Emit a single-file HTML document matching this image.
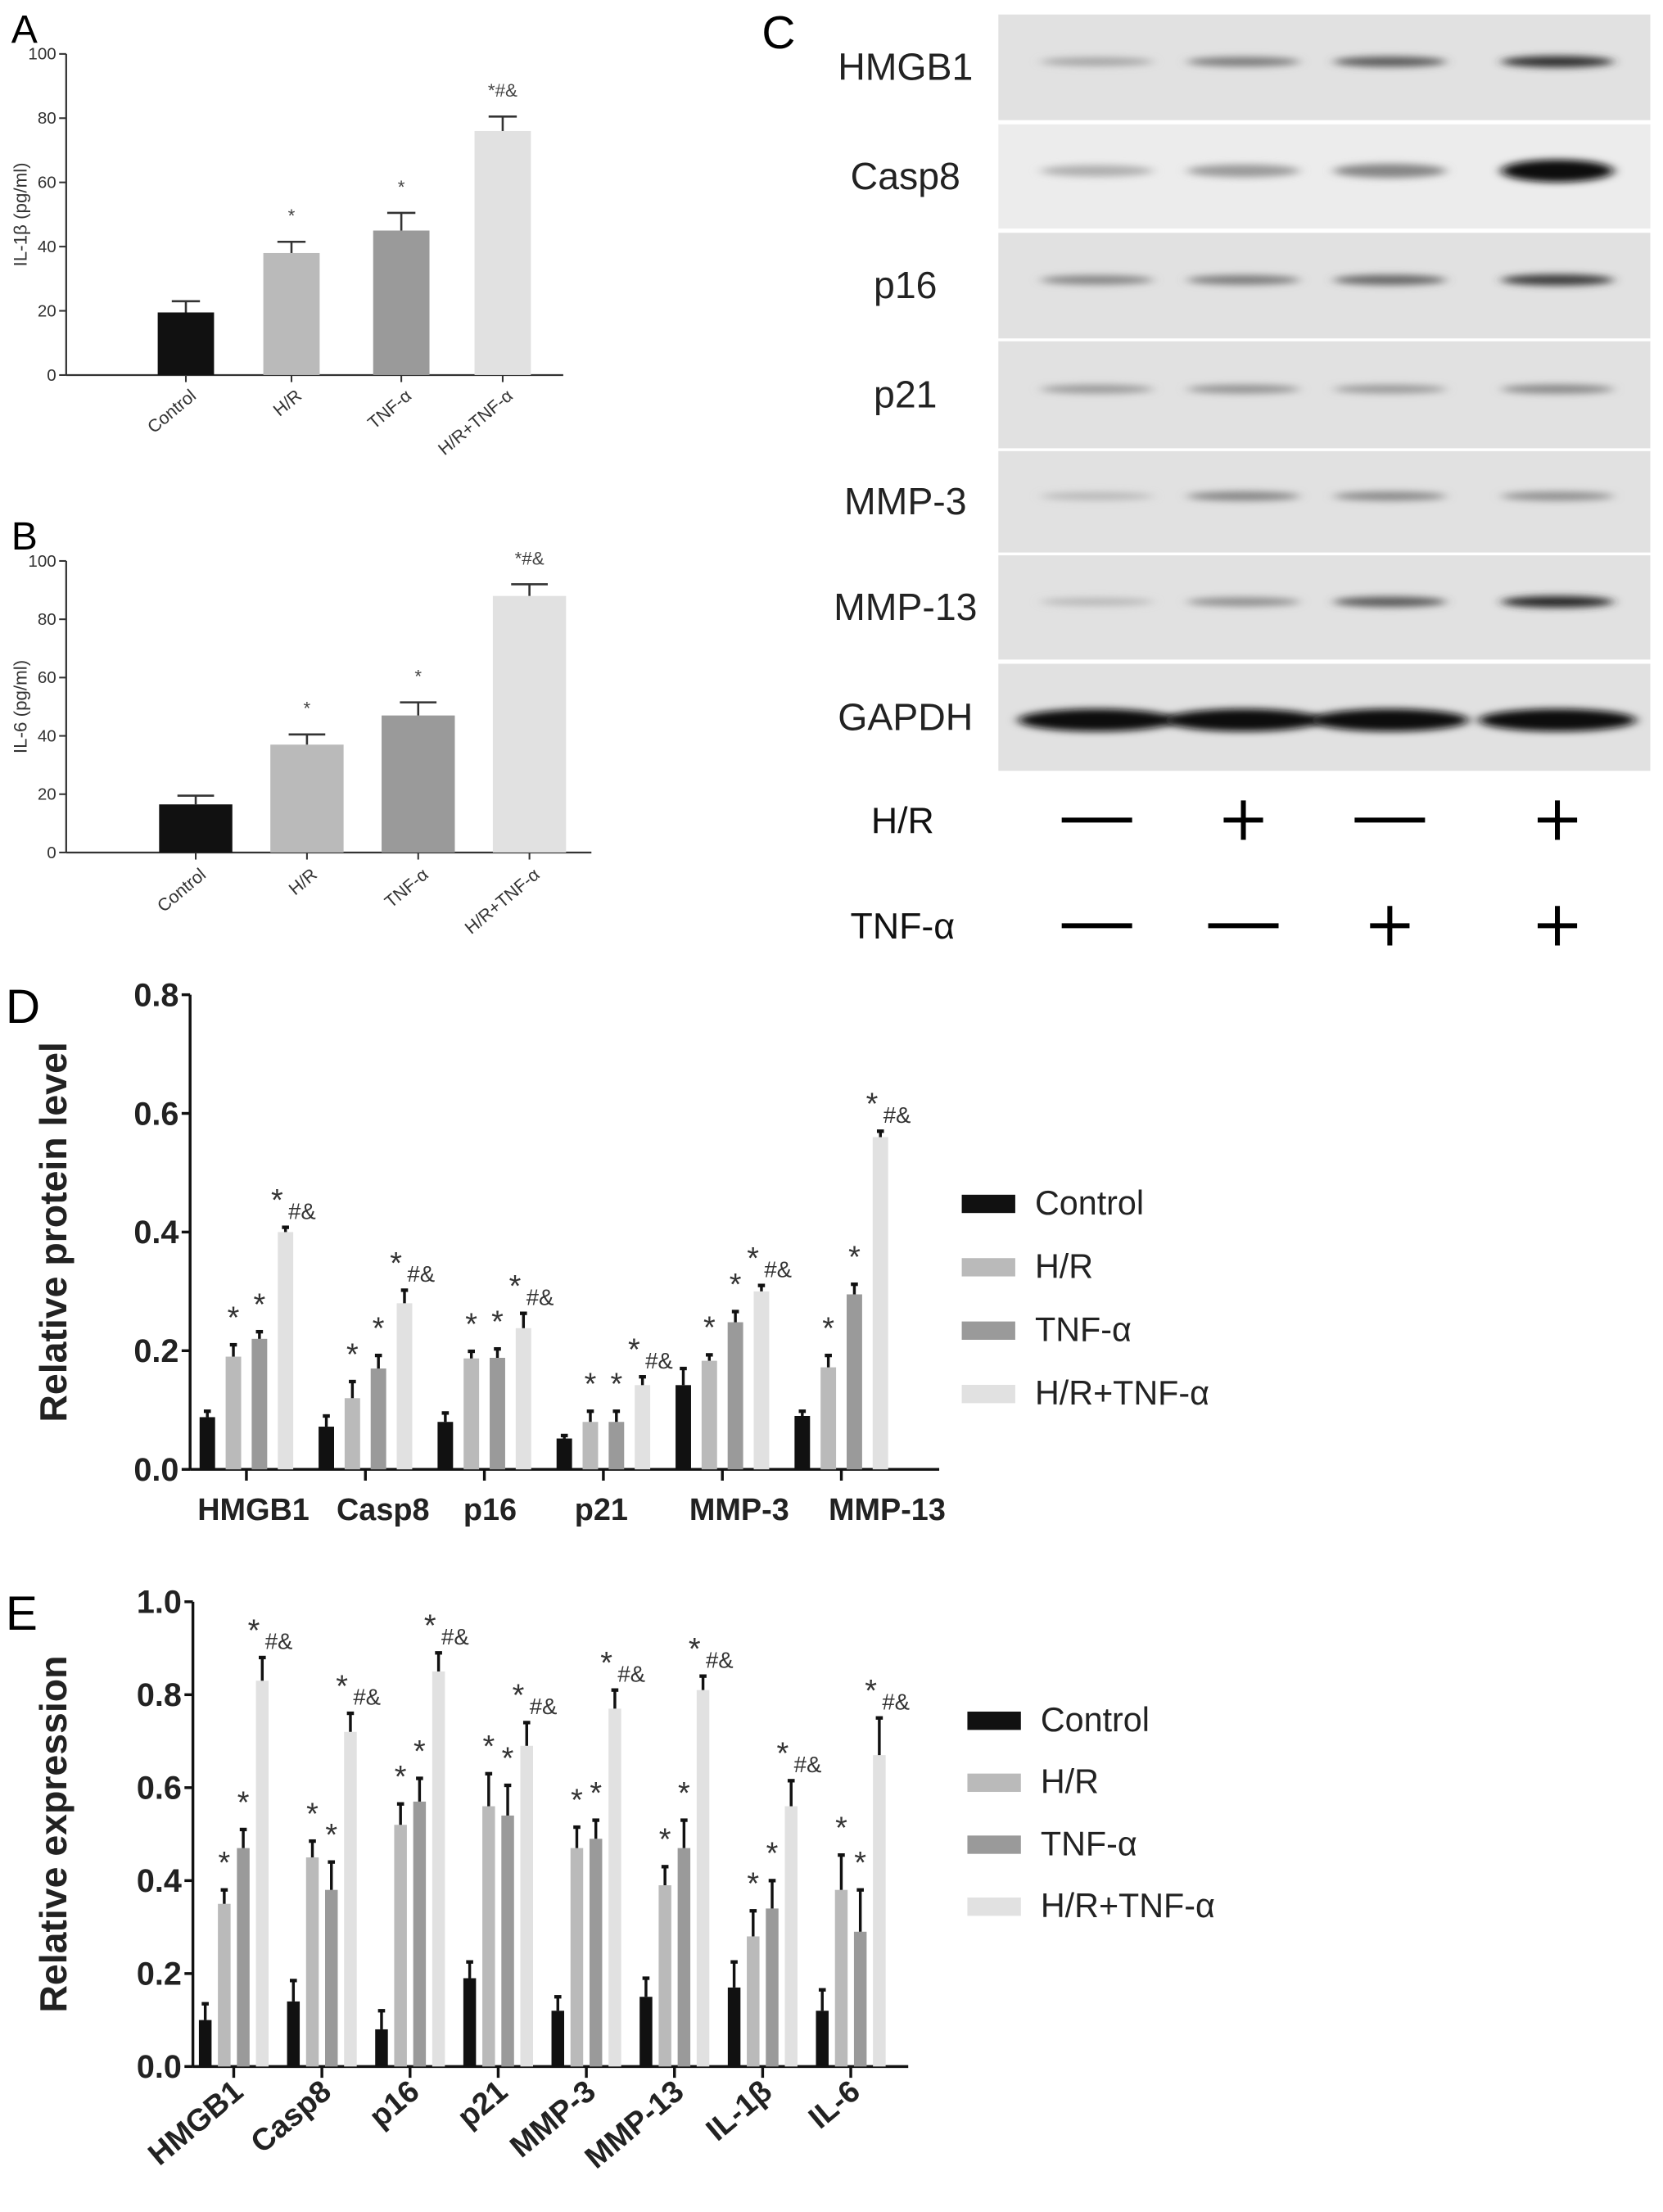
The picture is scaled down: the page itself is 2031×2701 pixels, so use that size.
<!DOCTYPE html>
<html><head><meta charset="utf-8"><style>
html,body{margin:0;padding:0;background:#fff;}
svg{display:block;font-family:"Liberation Sans",Arial,sans-serif;}
</style></head><body>
<svg id="fig" width="2031" height="2701" viewBox="0 0 1181 1570" xmlns="http://www.w3.org/2000/svg">
<defs><filter id="blur" x="-20%" y="-200%" width="140%" height="500%"><feGaussianBlur stdDeviation="4 2.5"/></filter></defs>
<g id="A"></g>
<g id="B"></g>
<g id="C"></g>
<g id="D"></g>
<g id="E"></g>
</svg>
<script>
// ---------- data ----------
const abGroups = ["Control","H/R","TNF-α","H/R+TNF-α"];
const aValues = [19.5,38,45,76];
const aErrors = [3.5,3.5,5.5,4.5];
const aMarks = ["","*","*","*#&"];
const bValues = [16.5,37,47,88];
const bErrors = [3,3.5,4.5,4];
const bMarks = ["","*","*","*#&"];
const abTicks = [0,20,40,60,80,100];

const seriesNames = ["Control","H/R","TNF-α","H/R+TNF-α"];
const dCategories = ["HMGB1","Casp8","p16","p21","MMP-3","MMP-13"];
const dControl = [0.088,0.072,0.080,0.052,0.142,0.090];
const dHR = [0.190,0.120,0.187,0.080,0.183,0.172];
const dTNF = [0.220,0.170,0.188,0.080,0.248,0.295];
const dBoth = [0.400,0.280,0.238,0.142,0.300,0.560];
const dErrControl = [0.010,0.018,0.015,0.005,0.028,0.008];
const dErrHR = [0.020,0.028,0.012,0.018,0.010,0.020];
const dErrTNF = [0.012,0.022,0.015,0.018,0.018,0.017];
const dErrBoth = [0.008,0.022,0.025,0.014,0.010,0.010];
const dTicks = [0,0.2,0.4,0.6,0.8];

const eCategories = ["HMGB1","Casp8","p16","p21","MMP-3","MMP-13","IL-1β","IL-6"];
const eControl = [0.10,0.14,0.08,0.19,0.12,0.15,0.17,0.12];
const eHR = [0.35,0.45,0.52,0.56,0.47,0.39,0.28,0.38];
const eTNF = [0.47,0.38,0.57,0.54,0.49,0.47,0.34,0.29];
const eBoth = [0.83,0.72,0.85,0.69,0.77,0.81,0.56,0.67];
const eErrControl = [0.035,0.045,0.04,0.035,0.03,0.04,0.055,0.045];
const eErrHR = [0.03,0.035,0.045,0.07,0.045,0.04,0.055,0.075];
const eErrTNF = [0.04,0.06,0.05,0.065,0.04,0.06,0.06,0.09];
const eErrBoth = [0.05,0.04,0.04,0.05,0.04,0.03,0.055,0.08];
const eTicks = [0,0.2,0.4,0.6,0.8,1.0];

const blotProteins = ["HMGB1","Casp8","p16","p21","MMP-3","MMP-13","GAPDH"];
const blotIntensity = [
 [0.25,0.45,0.6,0.8],[0.2,0.3,0.4,1.0],[0.4,0.45,0.55,0.75],
 [0.3,0.33,0.3,0.38],[0.15,0.4,0.38,0.35],[0.15,0.35,0.6,0.85],[1,1,1,1]];
const hrSigns = ["—","+","—","+"];
const tnfSigns = ["—","—","+","+"];

// ---------- helpers ----------
const NS="http://www.w3.org/2000/svg";
function mk(parent,tag,attrs,text){const e=document.createElementNS(NS,tag);for(const k in attrs)e.setAttribute(k,attrs[k]);if(text!==undefined)e.textContent=text;parent.appendChild(e);return e;}
const fills=["#111111","#bababa","#9a9a9a","#e1e1e1"];

// ---------- panels A & B ----------
function smallChart(g,letter,ylab,vals,errs,marks,x0,yBase,yTop,centers,bw,xEnd,labY){
  const y=v=>yBase-(v/100)*(yBase-yTop);
  let t=mk(g,"text",{x:8,y:yTop-8,"font-size":28},letter);
  
  
  let ax=mk(g,"line",{x1:x0,y1:yTop,x2:x0,y2:yBase,stroke:"#333","stroke-width":1.3});
  
  
  let bx=mk(g,"line",{x1:x0,y1:yBase,x2:xEnd,y2:yBase,stroke:"#333","stroke-width":1.3});
  
  
  abTicks.forEach(tv=>{
    mk(g,"line",{x1:x0-5,y1:y(tv),x2:x0,y2:y(tv),stroke:"#333","stroke-width":1.2});
    let tl=mk(g,"text",{x:x0-7,y:y(tv)+4,"font-size":12,"text-anchor":"end",fill:"#333"},tv);
    
    
  });
  let yl=mk(g,"text",{transform:`translate(19,${(yBase+yTop)/2}) rotate(-90)`,"font-size":13,"text-anchor":"middle",fill:"#333"},ylab);
  
  
  vals.forEach((v,i)=>{
    const cx=centers[i];
    let r=mk(g,"rect",{x:cx-bw/2,y:y(v),width:bw,height:yBase-y(v),fill:fills[i]});
    
    
    mk(g,"line",{x1:cx,y1:y(v),x2:cx,y2:y(v+errs[i]),stroke:"#333","stroke-width":1.5});
    mk(g,"line",{x1:cx-bw/4,y1:y(v+errs[i]),x2:cx+bw/4,y2:y(v+errs[i]),stroke:"#333","stroke-width":1.5});
    if(marks[i]){let m=mk(g,"text",{x:cx,y:y(v+errs[i])-14,"font-size":13,"text-anchor":"middle",fill:"#444"},marks[i]);
      
      }
    mk(g,"line",{x1:cx,y1:yBase,x2:cx,y2:yBase+5,stroke:"#333","stroke-width":1.2});
    let xl=mk(g,"text",{transform:`translate(${cx+8},${labY}) rotate(-40)`,"font-size":12.5,"text-anchor":"end",fill:"#333"},abGroups[i]);
    
    
  });
}
smallChart(document.getElementById("A"),"A","IL-1β (pg/ml)",aValues,aErrors,aMarks,47,266,38,[132,207,285,357],40,400,282);
smallChart(document.getElementById("B"),"B","IL-6 (pg/ml)",bValues,bErrors,bMarks,47,605,398,[139,218,297,376],52,420,622);

// ---------- panel C ----------
(function(){
  const g=document.getElementById("C");
  let t=mk(g,"text",{x:541,y:34,"font-size":33},"C");
  
  
  const rows=[[10,85],[88,162],[165,240],[242,318],[320,392],[394,468],[471,547]];
  const lanes=[779,883,987,1106];
  blotProteins.forEach((p,ri)=>{
    const [y1,y2]=rows[ri];
    let r=mk(g,"rect",{x:709,y:y1,width:463,height:y2-y1,fill:ri==1?"#ececec":"#e1e1e1"});
    
    
    const cy=(y1+y2)/2+(ri==6?2:-4);
    lanes.forEach((lx,li)=>{
      const it=blotIntensity[ri][li];
      const h=ri==6?16:(ri==1?6+10*it:5+4*it);
      const w=ri==6?112:80;
      const c=Math.round(215-205*it);
      let b=mk(g,"ellipse",{cx:lx,cy:cy,rx:w/2,ry:h/2,fill:`rgb(${c},${c},${c})`,filter:"url(#blur)"});
      
      
    });
    let lb=mk(g,"text",{x:643,y:(y1+y2)/2+9,"font-size":27,"text-anchor":"middle",fill:"#222"},p);
    
    
  });
  [["H/R",582,hrSigns],["TNF-α",657,tnfSigns]].forEach(([lab,yy,signs])=>{
    let l=mk(g,"text",{x:641,y:yy+9,"font-size":26,"text-anchor":"middle",fill:"#111"},lab);
    
    
    signs.forEach((s,i)=>{
      let sg;
      if(s==="+"){sg=mk(g,"path",{d:`M${lanes[i]-14} ${yy}h28M${lanes[i]} ${yy-14}v28`,stroke:"#000","stroke-width":3.5});}
      else{sg=mk(g,"line",{x1:lanes[i]-25,y1:yy,x2:lanes[i]+25,y2:yy,stroke:"#000","stroke-width":3.5});}
      
      
    });
  });
})();

// ---------- panels D & E ----------
function groupChart(g,cfg){
  const {letter,ylab,cats,series,errs,ticks,x0,yBase,yTop,vmax,g0,gs,bw,pitch,xEnd,fs,rot,legX,legY,legGap}=cfg;
  const y=v=>yBase-(v/vmax)*(yBase-yTop);
  let t=mk(g,"text",{x:4,y:yTop+20,"font-size":34},letter);
  
  
  let ax=mk(g,"line",{x1:x0,y1:yTop,x2:x0,y2:yBase,stroke:"#111","stroke-width":2});
  
  
  let bx=mk(g,"line",{x1:x0,y1:yBase,x2:xEnd,y2:yBase,stroke:"#111","stroke-width":2});
  
  
  ticks.forEach(tv=>{
    mk(g,"line",{x1:x0-6,y1:y(tv),x2:x0,y2:y(tv),stroke:"#111","stroke-width":2});
    let tl=mk(g,"text",{x:x0-8,y:y(tv)+8,"font-size":23,"font-weight":"bold","text-anchor":"end",fill:"#222"},tv.toFixed(1));
    
    
  });
  let yl=mk(g,"text",{transform:`translate(47,${(yBase+yTop)/2}) rotate(-90)`,"font-size":27,"font-weight":"bold","text-anchor":"middle",fill:"#222"},ylab);
  
  
  cats.forEach((c,ci)=>{
    const gc=g0+ci*gs;
    series.forEach((s,si)=>{
      const cx=gc+(si-1.5)*pitch, v=s[ci], e=errs[si][ci];
      let r=mk(g,"rect",{x:cx-bw/2,y:y(v),width:bw,height:yBase-y(v),fill:fills[si]});
      
      
      mk(g,"line",{x1:cx,y1:y(v),x2:cx,y2:y(v+e),stroke:"#111","stroke-width":2});
      mk(g,"line",{x1:cx-2.5,y1:y(v+e),x2:cx+2.5,y2:y(v+e),stroke:"#111","stroke-width":2.5});
      if(si>0){
        let m=mk(g,"text",{x:cx-(si==3?6:0),y:y(v+e)-12,"font-size":22,"text-anchor":"middle",fill:"#333"},"*");
        
        
        if(si==3){let m2=mk(g,"text",{x:cx+2,y:y(v+e)-6,"font-size":16,fill:"#333"},"#&");
          
          }
      }
    });
    mk(g,"line",{x1:gc,y1:yBase,x2:gc,y2:yBase+8,stroke:"#111","stroke-width":2});
    let xl;
    if(rot){xl=mk(g,"text",{transform:`translate(${gc+8},${yBase+20}) rotate(-40)`,"font-size":fs,"font-weight":"bold","text-anchor":"end",fill:"#222"},c);}
    else{xl=mk(g,"text",{x:cfg.labX[ci],y:yBase+36,"font-size":fs,"font-weight":"bold","text-anchor":"middle",fill:"#222"},c);}
    
    
  });
  seriesNames.forEach((n,i)=>{
    let sq=mk(g,"rect",{x:legX,y:legY+i*legGap-6,width:38,height:13,fill:fills[i]});
    
    
    let lt=mk(g,"text",{x:legX+52,y:legY+i*legGap+8,"font-size":24,fill:"#222"},n);
    
    
  });
}
groupChart(document.getElementById("D"),{letter:"D",ylab:"Relative protein level",cats:dCategories,
  series:[dControl,dHR,dTNF,dBoth],errs:[dErrControl,dErrHR,dErrTNF,dErrBoth],ticks:dTicks,
  x0:135,yBase:1043,yTop:706,vmax:0.8,g0:175,gs:84.5,bw:11,pitch:18.5,xEnd:667,fs:22,rot:false,
  labX:[180,272,348,427,525,630],legX:683,legY:854,legGap:45});
groupChart(document.getElementById("E"),{letter:"E",ylab:"Relative expression",cats:eCategories,
  series:[eControl,eHR,eTNF,eBoth],errs:[eErrControl,eErrHR,eErrTNF,eErrBoth],ticks:eTicks,
  x0:137,yBase:1467,yTop:1137,vmax:1.0,g0:166,gs:62.6,bw:9,pitch:13.5,xEnd:645,fs:22,rot:true,
  legX:687,legY:1221,legGap:44});
</script>
</body></html>
